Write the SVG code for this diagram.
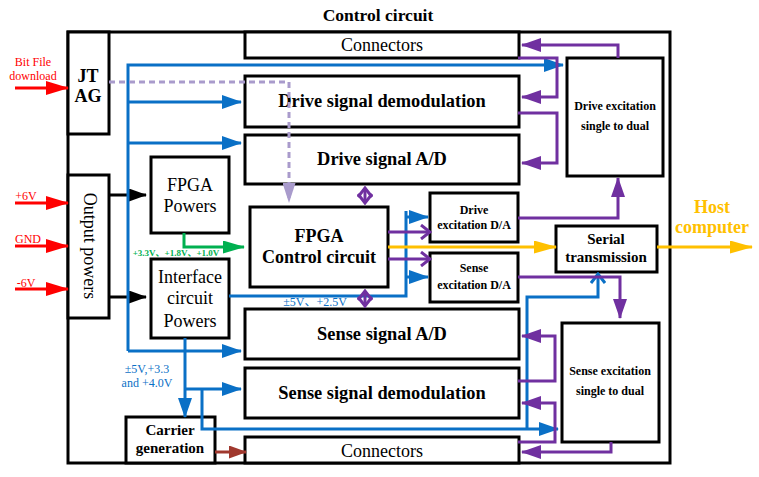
<svg xmlns="http://www.w3.org/2000/svg" width="759" height="477" viewBox="0 0 759 477">
<style>
.box{fill:#fff;stroke:#000;stroke-width:3}
.t{font-family:"Liberation Serif","Times New Roman",Tinos,"DejaVu Serif",serif;text-anchor:middle}
.c{font-family:"Liberation Serif","Times New Roman","Noto Sans CJK SC",serif;text-anchor:middle}
.b{font-weight:bold}
.blue{fill:none;stroke:#0a70c6;stroke-width:3}
.pur{fill:none;stroke:#7030a0;stroke-width:3}
.red{fill:none;stroke:#ff0000;stroke-width:3}
.blk{fill:none;stroke:#000;stroke-width:3}
</style>
<defs>
<marker id="mb" markerUnits="userSpaceOnUse" markerWidth="20" markerHeight="14" refX="19" refY="7" orient="auto"><path d="M0,0 L20,7 L0,14 z" fill="#0a70c6"/></marker>
<marker id="mp" markerUnits="userSpaceOnUse" markerWidth="20" markerHeight="14" refX="19" refY="7" orient="auto"><path d="M0,0 L20,7 L0,14 z" fill="#7030a0"/></marker>
<marker id="mr" markerUnits="userSpaceOnUse" markerWidth="23" markerHeight="14" refX="22" refY="7" orient="auto"><path d="M0,0 L23,7 L0,14 z" fill="#ff0000"/></marker>
<marker id="mk" markerUnits="userSpaceOnUse" markerWidth="18" markerHeight="13" refX="17" refY="6.5" orient="auto"><path d="M0,0 L18,6.5 L0,13 z" fill="#000"/></marker>
<marker id="mg" markerUnits="userSpaceOnUse" markerWidth="22" markerHeight="13" refX="21" refY="6.5" orient="auto"><path d="M0,0 L22,6.5 L0,13 z" fill="#00b050"/></marker>
<marker id="my" markerUnits="userSpaceOnUse" markerWidth="23" markerHeight="13" refX="22" refY="6.5" orient="auto"><path d="M0,0 L23,6.5 L0,13 z" fill="#ffc000"/></marker>
<marker id="ml" markerUnits="userSpaceOnUse" markerWidth="20" markerHeight="13" refX="19" refY="6.5" orient="auto"><path d="M0,0 L20,6.5 L0,13 z" fill="#a99bcc"/></marker>
<marker id="mn" markerUnits="userSpaceOnUse" markerWidth="18" markerHeight="13" refX="17" refY="6.5" orient="auto"><path d="M0,0 L18,6.5 L0,13 z" fill="#a0382e"/></marker>
<marker id="mpc" markerUnits="userSpaceOnUse" markerWidth="12" markerHeight="16" refX="10" refY="8" orient="auto-start-reverse"><path d="M1,1 L10,8 L1,15" fill="none" stroke="#7030a0" stroke-width="3"/></marker>
<marker id="mbc" markerUnits="userSpaceOnUse" markerWidth="12" markerHeight="16" refX="10" refY="8" orient="auto"><path d="M1,1 L10,8 L1,15" fill="none" stroke="#0a70c6" stroke-width="3"/></marker>
</defs>
<rect width="759" height="477" fill="#fff"/>

<g id="control-circuit">
<rect class="box" x="68" y="32" width="602" height="431"/>
<text class="t b" x="378" y="21" font-size="17.5">Control circuit</text>
</g>
<g id="jtag">
<rect class="box" x="68" y="32" width="41" height="102"/>
<text class="t b" x="88" y="82" font-size="18">JT</text>
<text class="t b" x="88" y="102" font-size="18">AG</text>
</g>
<g id="output-powers">
<rect class="box" x="68" y="175" width="41" height="143"/>
<text class="t" x="0" y="0" font-size="18" transform="translate(84,246) rotate(90)">Output powers</text>
</g>
<g id="connectors-top">
<rect class="box" x="245" y="32" width="274" height="26"/>
<text class="t" x="382" y="51" font-size="18">Connectors</text>
</g>
<g id="drive-demod">
<rect class="box" x="245" y="76" width="274" height="51"/>
<text class="t b" x="382" y="107" font-size="18.4">Drive signal demodulation</text>
</g>
<g id="drive-ad">
<rect class="box" x="245" y="135" width="274" height="49"/>
<text class="t b" x="382" y="165" font-size="18.4">Drive signal A/D</text>
</g>
<g id="fpga-powers">
<rect class="box" x="151" y="157" width="78" height="76"/>
<text class="t" x="190" y="191" font-size="18">FPGA</text>
<text class="t" x="190" y="212" font-size="18">Powers</text>
</g>
<g id="fpga-control">
<rect class="box" x="250" y="207" width="138" height="80"/>
<text class="t b" x="319" y="242" font-size="18">FPGA</text>
<text class="t b" x="319" y="263" font-size="18">Control circuit</text>
</g>
<g id="interface-powers">
<rect class="box" x="151" y="259" width="78" height="79"/>
<text class="t" x="190" y="283" font-size="18">Interface</text>
<text class="t" x="190" y="304" font-size="18">circuit</text>
<text class="t" x="190" y="327" font-size="18">Powers</text>
</g>
<g id="sense-ad">
<rect class="box" x="245" y="309" width="274" height="50"/>
<text class="t b" x="382" y="340" font-size="18.4">Sense signal A/D</text>
</g>
<g id="sense-demod">
<rect class="box" x="245" y="368" width="274" height="50"/>
<text class="t b" x="382" y="399" font-size="18.4">Sense signal demodulation</text>
</g>
<g id="connectors-bottom">
<rect class="box" x="245" y="437" width="274" height="26"/>
<text class="t" x="382" y="457" font-size="18">Connectors</text>
</g>
<g id="carrier-generation">
<rect class="box" x="126" y="417" width="89" height="46"/>
<text class="t b" x="170" y="435" font-size="15">Carrier</text>
<text class="t b" x="170" y="453" font-size="15">generation</text>
</g>
<g id="drive-exc-da">
<rect class="box" x="430" y="193" width="88" height="49"/>
<text class="t b" x="474" y="214" font-size="12">Drive</text>
<text class="t b" x="474" y="229" font-size="12">excitation D/A</text>
</g>
<g id="sense-exc-da">
<rect class="box" x="430" y="253" width="88" height="49"/>
<text class="t b" x="474" y="272" font-size="12">Sense</text>
<text class="t b" x="474" y="289" font-size="12">excitation D/A</text>
</g>
<g id="serial-transmission">
<rect class="box" x="556" y="226" width="101" height="46"/>
<text class="t b" x="606" y="244" font-size="15">Serial</text>
<text class="t b" x="606" y="262" font-size="15">transmission</text>
</g>
<g id="drive-exc-s2d">
<rect class="box" x="567" y="58" width="96" height="118"/>
<text class="t b" x="615" y="110" font-size="12">Drive excitation</text>
<text class="t b" x="615" y="130" font-size="12">single to dual</text>
</g>
<g id="sense-exc-s2d">
<rect class="box" x="562" y="323" width="97" height="119"/>
<text class="t b" x="610" y="375" font-size="12">Sense excitation</text>
<text class="t b" x="610" y="395" font-size="12">single to dual</text>
</g>

<g id="connectors">
<line class="red" x1="15" y1="88" x2="68" y2="88" marker-end="url(#mr)"/>
<line class="red" x1="15" y1="203" x2="68" y2="203" marker-end="url(#mr)"/>
<line class="red" x1="15" y1="246" x2="68" y2="246" marker-end="url(#mr)"/>
<line class="red" x1="15" y1="289" x2="68" y2="289" marker-end="url(#mr)"/>
<line class="blk" x1="109" y1="195" x2="146" y2="195" marker-end="url(#mk)"/>
<line class="blk" x1="109" y1="297" x2="146" y2="297" marker-end="url(#mk)"/>
<polyline class="blue" points="128,351 128,65 563,65" marker-end="url(#mb)"/>
<line class="blue" x1="128" y1="351" x2="241" y2="351" marker-end="url(#mb)"/>
<line class="blue" x1="128" y1="102" x2="241" y2="102" marker-end="url(#mb)"/>
<line class="blue" x1="128" y1="143" x2="241" y2="143" marker-end="url(#mb)"/>
<line class="blue" x1="185" y1="338" x2="185" y2="417" marker-end="url(#mb)"/>
<line class="blue" x1="185" y1="389" x2="241" y2="389" marker-end="url(#mb)"/>
<polyline class="blue" points="202,389 202,429 558,429" marker-end="url(#mb)"/>
<polyline class="blue" points="527,429 527,297 598,297 598,274" marker-end="url(#mbc)"/>
<polyline class="blue" points="229,296 406,296 406,211"/>
<line class="blue" x1="406" y1="217" x2="428" y2="217" marker-end="url(#mb)"/>
<line class="blue" x1="406" y1="277" x2="428" y2="277" marker-end="url(#mb)"/>
<polyline fill="none" stroke="#00b050" stroke-width="3" points="184,233 184,247 244,247" marker-end="url(#mg)"/>
<polyline fill="none" stroke="#a99bcc" stroke-width="3" stroke-dasharray="6,4" points="109,82 289,82 289,202" marker-end="url(#ml)"/>
<line class="pur" x1="365" y1="188" x2="365" y2="203" marker-start="url(#mpc)" marker-end="url(#mpc)"/>
<line class="pur" x1="365" y1="291" x2="365" y2="306" marker-start="url(#mpc)" marker-end="url(#mpc)"/>
<line class="pur" x1="388" y1="232" x2="430" y2="232" marker-end="url(#mpc)"/>
<line class="pur" x1="388" y1="259" x2="430" y2="259" marker-end="url(#mpc)"/>
<line fill="none" stroke="#ffc000" stroke-width="3" x1="388" y1="247" x2="556" y2="247" marker-end="url(#my)"/>
<line fill="none" stroke="#ffc000" stroke-width="3" x1="657" y1="247" x2="752" y2="247" marker-end="url(#my)"/>
<polyline class="pur" points="518,218 618,218 618,178" marker-end="url(#mp)"/>
<polyline class="pur" points="518,277 620,277 620,318" marker-end="url(#mp)"/>
<polyline class="pur" points="618,58 618,45 522,45" marker-end="url(#mp)"/>
<polyline class="pur" points="518,58 557,58 557,97 522,97" marker-end="url(#mp)"/>
<polyline class="pur" points="518,113 557,113 557,163 522,163" marker-end="url(#mp)"/>
<polyline class="pur" points="518,381 555,381 555,336 522,336" marker-end="url(#mp)"/>
<polyline class="pur" points="518,442 555,442 555,403 522,403" marker-end="url(#mp)"/>
<polyline class="pur" points="611,442 611,452 522,452" marker-end="url(#mp)"/>
<line fill="none" stroke="#a0382e" stroke-width="3" x1="215" y1="452" x2="246" y2="452" marker-end="url(#mn)"/>
</g>

<g id="labels">
<text class="t" x="33" y="66" font-size="12" fill="#ff0000">Bit File</text>
<text class="t" x="33" y="80" font-size="12" fill="#ff0000">download</text>
<text class="t" x="26" y="200" font-size="12" fill="#ff0000">+6V</text>
<text class="t" x="28" y="243" font-size="12" fill="#ff0000">GND</text>
<text class="t" x="26" y="287" font-size="12" fill="#ff0000">-6V</text>
<text class="c b" x="176" y="256" font-size="9" fill="#00b050">+3.3V、+1.8V、+1.0V</text>
<text class="c" x="315" y="306" font-size="12" fill="#0a70c6">±5V、+2.5V</text>
<text class="t" x="147" y="373" font-size="12" fill="#0a70c6">±5V,+3.3</text>
<text class="t" x="147" y="387" font-size="12" fill="#0a70c6">and +4.0V</text>
<text class="t b" x="712" y="213" font-size="18" fill="#ffc000">Host</text>
<text class="t b" x="712" y="233" font-size="18" fill="#ffc000">computer</text>
</g>
</svg>
